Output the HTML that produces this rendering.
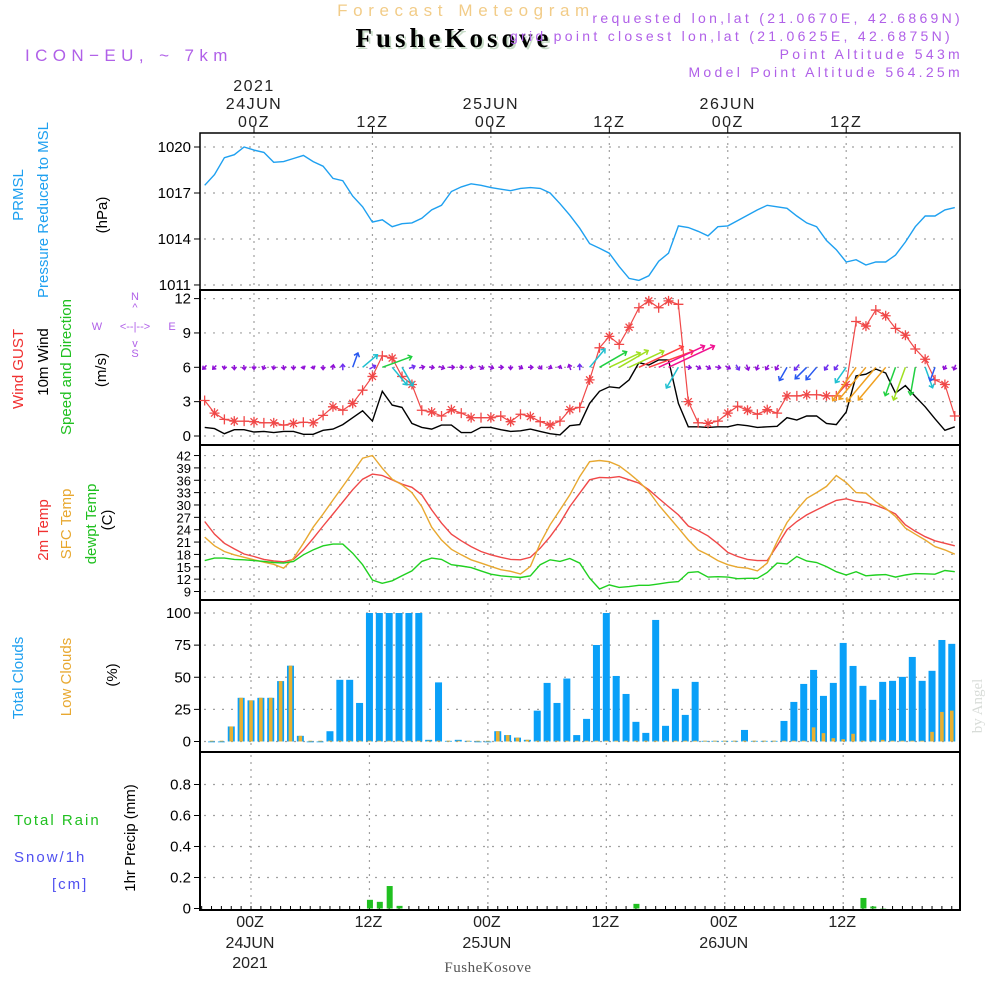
<!DOCTYPE html>
<html><head><meta charset="utf-8"><style>
html,body{margin:0;padding:0;background:#fff;width:1000px;height:1000px;overflow:hidden}
svg{display:block;font-family:"Liberation Sans",sans-serif}
</style></head><body>
<svg id="chart" width="1000" height="1000" viewBox="0 0 1000 1000">
<g>
<text x="466" y="16" text-anchor="middle" font-size="17" fill="#f2cc88" letter-spacing="5.6">Forecast Meteogram</text>
<text x="456" y="49" text-anchor="middle" font-size="27" font-weight="bold" font-family="Liberation Serif,serif" fill="#c8dcc8" letter-spacing="4">FusheKosove</text>
<text x="454" y="47" text-anchor="middle" font-size="27" font-weight="bold" font-family="Liberation Serif,serif" fill="#000" letter-spacing="4">FusheKosove</text>
<text x="25" y="61" font-size="17" fill="#b060e8" letter-spacing="5.4">ICON−EU, ~ 7km</text>
<g font-size="14" fill="#b060e8" text-anchor="end" letter-spacing="3.3">
<text x="963" y="23">requested lon,lat (21.0670E, 42.6869N)</text>
<text x="953" y="41">grid point closest lon,lat (21.0625E, 42.6875N)</text>
<text x="963" y="59">Point Altitude 543m</text>
<text x="963" y="77">Model Point Altitude 564.25m</text>
</g>
</g>
<g id="axes"></g>
<g id="marks"></g>
<g font-size="15">
<text transform="translate(23,195) rotate(-90)" text-anchor="middle" fill="#1ea0f0">PRMSL</text>
<text transform="translate(48,210) rotate(-90)" text-anchor="middle" fill="#1ea0f0">Pressure Reduced to MSL</text>
<text transform="translate(107,215) rotate(-90)" text-anchor="middle" fill="#000">(hPa)</text>
<text transform="translate(23,369) rotate(-90)" text-anchor="middle" fill="#f03030">Wind GUST</text>
<text transform="translate(48,362) rotate(-90)" text-anchor="middle" fill="#000">10m Wind</text>
<text transform="translate(71,367) rotate(-90)" text-anchor="middle" fill="#20c020">Speed and Direction</text>
<text transform="translate(106,370) rotate(-90)" text-anchor="middle" fill="#000">(m/s)</text>
<g fill="#b060e8" font-size="11">
<text x="135" y="300" text-anchor="middle">N</text>
<text x="135" y="311" text-anchor="middle">^</text>
<text x="97" y="330" text-anchor="middle">W</text>
<text x="135" y="330" text-anchor="middle">&lt;--|--&gt;</text>
<text x="172" y="330" text-anchor="middle">E</text>
<text x="135" y="347" text-anchor="middle">v</text>
<text x="135" y="357" text-anchor="middle">S</text>
</g>
<text transform="translate(48,530) rotate(-90)" text-anchor="middle" fill="#f03030">2m Temp</text>
<text transform="translate(71,524) rotate(-90)" text-anchor="middle" fill="#e8a830">SFC Temp</text>
<text transform="translate(96,524) rotate(-90)" text-anchor="middle" fill="#20c020">dewpt Temp</text>
<text transform="translate(112,520) rotate(-90)" text-anchor="middle" fill="#000">(C)</text>
<text transform="translate(23,678) rotate(-90)" text-anchor="middle" fill="#1ea0f0">Total Clouds</text>
<text transform="translate(71,677) rotate(-90)" text-anchor="middle" fill="#e8a830">Low Clouds</text>
<text transform="translate(117,675) rotate(-90)" text-anchor="middle" fill="#000">(%)</text>
<text x="14" y="825" fill="#20c020" letter-spacing="2">Total    Rain</text>
<text x="14" y="862" fill="#5050f0" letter-spacing="2">Snow/1h</text>
<text x="52" y="889" fill="#5050f0" letter-spacing="2">[cm]</text>
<text transform="translate(135,838) rotate(-90)" text-anchor="middle" fill="#000">1hr Precip (mm)</text>
</g>
<text transform="translate(982,706) rotate(-90)" text-anchor="middle" font-size="15" font-family="Liberation Serif,serif" fill="#d8dcd8">by Angel</text>
<text x="488" y="972" text-anchor="middle" font-size="15" font-family="Liberation Serif,serif" fill="#555" letter-spacing="0.5">FusheKosove</text>
</svg>
<script>
// hourly data, hours from 00Z 24JUN (h = -5 .. 71)
const pressure = [1017.5,1018.2,1019.3,1019.5,1020.0,1019.8,1019.65,1019.0,1019.05,1019.25,1019.45,1019.05,1018.75,1017.95,1017.8,1016.8,1016.1,1015.1,1015.25,1014.8,1015.0,1015.05,1015.35,1015.9,1016.2,1017.1,1017.4,1017.6,1017.5,1017.35,1017.25,1017.15,1017.3,1017.35,1017.3,1017.0,1016.3,1015.55,1014.7,1013.7,
1013.4,1013.07,1012.2,1011.43,1011.3,1011.6,1012.55,1013.07,1014.85,1014.75,1014.5,1014.2,1014.8,1014.85,1015.2,1015.55,1015.9,1016.2,1016.1,1016.0,1015.5,1015.05,1014.8,1013.9,1013.3,1012.5,1012.65,1012.3,1012.5,1012.5,1012.95,1013.8,1014.8,1015.5,1015.5,1015.9,1016.05];
const gust = [3.1,2.0,1.45,1.3,1.3,1.25,1.15,1.15,0.95,1.1,1.2,1.15,1.8,2.55,2.25,2.85,4.0,5.2,7.0,6.8,5.2,4.5,2.25,2.1,1.75,2.3,2.0,1.6,1.6,1.6,1.75,1.25,1.9,1.7,1.25,0.95,1.3,2.3,2.5,4.9,
7.7,8.7,8.0,9.5,11.2,11.8,11.2,11.8,11.5,3.0,1.15,1.1,1.3,2.0,2.6,2.25,1.9,2.3,2.0,3.5,3.5,3.6,3.6,3.5,3.5,4.5,10.0,9.6,11.0,10.5,9.4,8.8,7.6,6.7,4.9,4.5,1.75];
const windSpeed = [0.75,0.65,0.2,0.55,0.55,0.35,0.4,0.3,0.4,0.4,0.15,0.15,0.5,0.6,1.0,1.6,2.2,1.3,3.9,2.7,2.5,1.1,0.75,0.6,0.95,0.95,0.3,0.3,0.75,0.75,0.55,0.4,0.45,0.6,0.4,0.2,0.1,0.9,1.0,2.85,
3.9,4.3,4.2,4.9,6.4,6.2,6.65,6.65,2.85,0.8,0.8,0.75,0.8,0.8,1.0,0.9,0.75,0.8,0.85,1.6,1.4,1.75,1.75,1.1,1.0,2.1,5.25,5.4,5.85,5.5,3.75,4.4,3.45,2.55,1.5,0.5,0.8];
const windDir = [45,45,10,0,350,0,20,10,350,0,340,340,0,190,180,200,230,240,250,320,330,250,260,280,290,270,270,280,300,290,270,0,300,270,320,300,200,160,180,220,
240,245,240,245,245,250,245,245,30,280,300,300,280,300,330,340,20,30,30,30,40,45,40,35,35,35,35,40,40,40,20,20,10,340,20,30,20];
const temp2m = [26.0,22.9,20.7,19.35,18.1,17.5,16.8,16.4,16.2,16.8,19.1,21.9,24.9,27.8,30.75,33.7,36.25,37.5,37.15,36.1,35.05,34.3,32.45,28.8,25.6,22.9,21.3,19.9,18.7,17.9,17.3,16.8,16.7,17.3,19.5,22.3,25.6,29.6,32.85,36.1,
36.7,36.6,36.9,36.1,35.3,33.7,31.6,29.6,27.6,24.9,23.8,22.5,20.6,18.5,17.5,16.8,16.5,16.5,20.1,24.0,26.0,27.6,28.8,30.0,31.1,31.5,30.9,30.6,29.9,29.0,27.8,25.2,23.6,22.3,21.3,20.7,20.1];
const tempSfc = [22.2,20.1,18.7,17.9,17.3,16.7,16.1,15.6,14.65,17.05,20.7,24.6,27.8,31.2,34.5,37.9,41.35,42.0,38.9,36.25,34.9,33.0,29.6,24.6,21.5,19.25,17.9,16.7,15.9,15.1,14.3,13.9,13.25,15.1,20.7,25.2,28.8,32.45,36.9,40.5,
40.8,40.5,39.5,37.7,35.7,33.3,30.0,27.2,24.4,21.5,19.1,17.9,16.5,15.5,14.9,14.65,14.0,15.9,21.1,25.75,28.8,31.6,33.0,34.5,37.15,35.45,33.0,32.85,30.8,29.2,27.2,24.4,22.9,21.5,19.9,19.1,18.05];
const dewpt = [16.5,17.1,17.1,16.8,16.7,16.5,16.3,16.05,15.9,16.3,17.9,19.1,20.1,20.5,20.5,18.3,15.5,11.8,11.0,11.6,12.8,14.0,16.3,17.1,16.8,15.5,15.2,14.8,14.0,13.2,12.8,12.6,12.4,12.8,15.5,16.7,16.3,17.0,15.9,12.25,
9.6,10.6,10.0,10.2,10.5,10.5,10.85,11.2,11.4,13.6,13.8,12.5,12.6,12.5,12.1,12.2,12.2,13.6,15.9,15.7,17.5,16.4,16.05,15.05,13.8,13.0,13.8,12.8,13.0,13.1,12.5,13.0,13.35,13.3,13.2,14.1,13.8];
// clouds: h = -4 .. 71
const totalClouds = [0,0,11.7,34,32,34,34,47,59,4.4,0,0,8,48,48,30,100,100,100,100,100,100,1.3,46,0.5,1.3,0.5,0,0,8,5,3,1.3,24,45.6,30,49,5,17.6,
75.1,100,51,37,15.3,6.7,94.6,12.2,41,20.7,46.4,0.5,0.5,0.5,0.5,9,0.5,0.5,0.5,16,30.8,44.8,55.7,35.5,45.6,76.7,58.8,43.3,32.4,46.4,47.2,50.3,65.8,47.2,55,79,76];
const lowClouds = [0,0,11.7,34,32,34,34,47,59,4.4,0,0,0,0,0,0,0,0,0,0,0,0,0,0,0,0,0,0,0,8,5,3,1.3,0,0,0,0,0,0,
0,0,0,0,0,0,0,0,0,0,0,0,0,0,0,0,0,0,0,0,0,0,11,6.5,2.6,1.8,6,0,0,1.3,0,0,0,0,7.5,23,24];
// precip: h = -5 .. 71
const precip = [0,0,0,0,0,0,0,0,0,0,0,0,0,0,0,0,0,0.056,0.043,0.145,0.017,0,0,0,0,0,0,0,0,0,0,0,0,0,0,0,0,0,0,0,
0,0,0,0,0.03,0,0,0,0,0,0,0,0,0,0,0,0,0,0,0,0,0,0,0,0,0,0,0.068,0.013,0.002,0,0,0,0,0,0,0];
const timeTicks = [0,12,24,36,48,60];
const topTickLabels = ["00Z","12Z","00Z","12Z","00Z","12Z"];
const dayLabels = {0:"24JUN",24:"25JUN",48:"26JUN"};
const pressureTicks = [1020,1017,1014,1011];
const windTicks = [0,3,6,9,12];
const tempTicks = [9,12,15,18,21,24,27,30,33,36,39,42];
const cloudTicks = [0,25,50,75,100];
const precipTicks = [0,0.2,0.4,0.6,0.8];

const NS = "http://www.w3.org/2000/svg";
const axes = document.getElementById('axes');
const marks = document.getElementById('marks');
function el(tag, attrs, parent){const e=document.createElementNS(NS,tag);for(const k in attrs)e.setAttribute(k,attrs[k]);(parent||marks).appendChild(e);return e;}
const X0=200, X1=960, PXH=9.87;
const xTop = h => 254 + h*PXH;
const xBot = h => 251 + h*PXH;
const yP = p => 147 + (1020-p)*15.33;
const yW = v => 436 - v*11.45;
const yT = t => 591.5 - (t-9)*4.12;
const yC = c => 741.5 - c*1.285;
const yR = r => 908.5 - r*155;

function hgrid(y){const l=el('line',{x1:X0+4,x2:X1-4,y1:y,y2:y,stroke:'#a0a0a0','stroke-width':1.2,'stroke-dasharray':'2,7'},axes);
}
function vgrid(x,y1,y2){const l=el('line',{x1:x,x2:x,y1:y1,y2:y2,stroke:'#a0a0a0','stroke-width':1.2,'stroke-dasharray':'2,5'},axes);
}
function ytick(y,label,fs,name){
 const t=el('line',{x1:X0-6,x2:X0,y1:y,y2:y,stroke:'#000','stroke-width':1},axes);
 
 const tx=el('text',{x:X0-9,y:y+5,'text-anchor':'end','font-size':fs,fill:'#000'},axes);tx.textContent=label;
 
}
const panels=[[133,290,xTop],[290,445,xTop],[445,600,xTop],[600,752,xBot],[752,910,xBot]];
panels.forEach(([a,b,xf])=>{timeTicks.forEach(h=>vgrid(xf(h),a+3,b-3));});
pressureTicks.forEach(p=>{hgrid(yP(p));ytick(yP(p),String(p),15,'pressure-tick-label');});
windTicks.forEach(v=>{hgrid(yW(v));ytick(yW(v),String(v),15,'wind-tick-label');});
tempTicks.forEach(t=>{hgrid(yT(t));ytick(yT(t),String(t),13,'temp-tick-label');});
cloudTicks.forEach(c=>{hgrid(yC(c));ytick(yC(c),String(c),15,'cloud-tick-label');});
precipTicks.forEach(r=>{if(r>0)hgrid(yR(r));ytick(yR(r),String(r),15,'precip-tick-label');});
[[133,290],[290,445],[445,600],[600,752],[752,910]].forEach(([a,b],i)=>{
 const r=el('rect',{x:X0,y:a,width:X1-X0,height:b-a,fill:'none',stroke:'#000','stroke-width':i==0?1.5:2},axes);
 
});
timeTicks.forEach((h,i)=>{
 const tk=el('line',{x1:xTop(h),x2:xTop(h),y1:127,y2:133,stroke:'#000'},axes);
 
 const t=el('text',{x:xTop(h),y:127,'text-anchor':'middle','font-size':16,fill:'#222','letter-spacing':1.5},axes);t.textContent=topTickLabels[i];
 
 const b=el('text',{x:xBot(h)-1,y:927,'text-anchor':'middle','font-size':16,fill:'#222'},axes);b.textContent=topTickLabels[i];
 
 if(dayLabels[h]){
  const d=el('text',{x:xTop(h),y:109,'text-anchor':'middle','font-size':16,fill:'#222','letter-spacing':1.5},axes);d.textContent=dayLabels[h];
  
  const d2=el('text',{x:xBot(h)-1,y:948,'text-anchor':'middle','font-size':16,fill:'#222'},axes);d2.textContent=dayLabels[h];
  
 }
});
{const y=el('text',{x:xTop(0),y:91,'text-anchor':'middle','font-size':16,fill:'#222','letter-spacing':1.5},axes);y.textContent='2021';
 
 const y2=el('text',{x:xBot(0)-1,y:968,'text-anchor':'middle','font-size':16,fill:'#222'},axes);y2.textContent='2021';
 }
for(let h=-5;h<=71;h++){const t=el('line',{x1:xBot(h),x2:xBot(h),y1:906,y2:910,stroke:'#000'},axes);
 }

function line(arr,yf,color,name,w){
 const pts=arr.map((v,i)=>xTop(i-5).toFixed(1)+','+yf(v).toFixed(1)).join(' ');
 const p=el('polyline',{points:pts,fill:'none',stroke:color,'stroke-width':w||1.4});
 
}
line(pressure,yP,'#1ea0f0','pressure-line');
line(windSpeed,yW,'#000','wind-speed-line');
line(gust,yW,'#f04848','wind-gust-line',1.2);
gust.forEach((v,i)=>{
 const x=xTop(i-5),y=yW(v);
 const m=el('path',{d:`M${x-5},${y}H${x+5}M${x},${y-5}V${y+5}`+(i%2?`M${x-3.5},${y-3.5}L${x+3.5},${y+3.5}M${x+3.5},${y-3.5}L${x-3.5},${y+3.5}`:''),stroke:'#f04848','stroke-width':1.3,fill:'none'});
 
});
function windColor(s){if(s<1)return'#9010d8';if(s<1.5)return'#7030f0';if(s<2)return'#2858f0';if(s<3)return'#20c0d0';if(s<4)return'#20d040';if(s<5)return'#a0e020';if(s<6)return'#f0a020';if(s<6.5)return'#ff4040';return'#f01090';}
windSpeed.forEach((s,i)=>{
 const x=xTop(i-5),y=yW(6);
 const to=(windDir[i]+180)*Math.PI/180;
 const small=s<1.5;
 const L=small?3+s*3:4+s*7;
 const dx=Math.sin(to),dy=-Math.cos(to);
 const x0=small?x-dx*L/2:x, y0=small?y-dy*L/2:y;
 const x1=x0+dx*L, y1=y0+dy*L;
 const hl=small?3.5:4.5;
 const a1=to+Math.PI*0.78,a2=to-Math.PI*0.78;
 const d=`M${x0.toFixed(1)},${y0.toFixed(1)}L${x1.toFixed(1)},${y1.toFixed(1)}M${(x1+Math.sin(a1)*hl).toFixed(1)},${(y1-Math.cos(a1)*hl).toFixed(1)}L${x1.toFixed(1)},${y1.toFixed(1)}L${(x1+Math.sin(a2)*hl).toFixed(1)},${(y1-Math.cos(a2)*hl).toFixed(1)}`;
 const p=el('path',{d:d,stroke:windColor(s),'stroke-width':1.5,fill:'none'});
 
});
line(temp2m,yT,'#f04848','temp-2m-line');
line(tempSfc,yT,'#e8a830','sfc-temp-line');
line(dewpt,yT,'#20d020','dewpt-line');
totalClouds.forEach((c,i)=>{
 const x=xBot(i-4);
 const b=el('rect',{x:x-3.5,y:yC(c),width:7,height:Math.max(yC(0)-yC(c),0.8),fill:'#0aa0f8'});
 
 const lc=lowClouds[i];
 const o=el('rect',{x:x-1.8,y:yC(lc)-(lc>0?0:0.8),width:3.6,height:Math.max(yC(0)-yC(lc),0.8),fill:'#e8b030'});
 
});
precip.forEach((r,i)=>{
 if(r<=0)return;
 const x=xBot(i-5);
 const b=el('rect',{x:x-2.5,y:yR(r),width:6,height:yR(0)-yR(r),fill:'#20c020'});
 
});
</script>
</body></html>
